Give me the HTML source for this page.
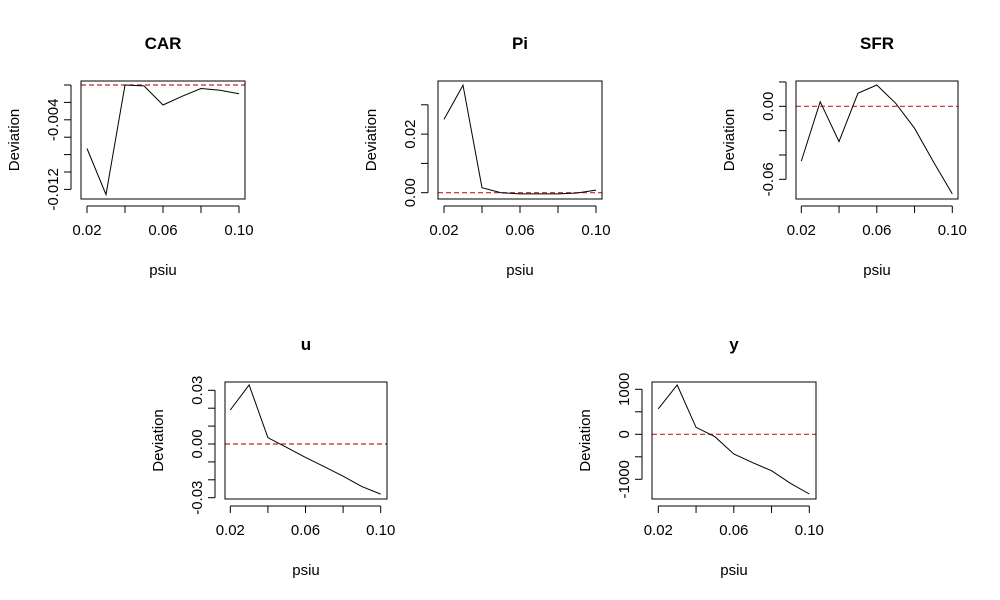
<!DOCTYPE html>
<html><head><meta charset="utf-8"><style>
body{margin:0;background:#fff}
svg{display:block;font-family:"Liberation Sans",Arial,sans-serif}
</style></head><body>
<svg id="chart" width="1000" height="600" viewBox="0 0 1000 600" xmlns="http://www.w3.org/2000/svg"></svg>
<script>
const psiu = [0.02,0.03,0.04,0.05,0.06,0.07,0.08,0.09,0.10];
const xTicks = [0.02,0.04,0.06,0.08,0.10];
const xTickLabels = ["0.02","","0.06","","0.10"];
const carValues = [-0.0073,-0.0126,0,-0.0001,-0.0023,-0.0013,-0.0004,-0.0006,-0.0010];
const carTicks = [0,-0.002,-0.004,-0.006,-0.008,-0.010,-0.012];
const carTickLabels = ["","","-0.004","","","","-0.012"];
const piValues = [0.0250,0.0367,0.0017,0,-0.0004,-0.0004,-0.0004,-0.0001,0.0009];
const piTicks = [0,0.01,0.02,0.03];
const piTickLabels = ["0.00","","0.02",""];
const sfrValues = [-0.045,0.0038,-0.029,0.0107,0.0175,0.0025,-0.018,-0.0455,-0.072];
const sfrTicks = [0.02,0,-0.02,-0.04,-0.06];
const sfrTickLabels = ["","0.00","","","-0.06"];
const uValues = [0.019,0.033,0.0035,-0.0019,-0.0075,-0.0127,-0.018,-0.0238,-0.028];
const uTicks = [0.03,0.02,0.01,0,-0.01,-0.02,-0.03];
const uTickLabels = ["0.03","","","0.00","","","-0.03"];
const yValues = [567,1096,155,-53,-437,-630,-808,-1089,-1326];
const yTicks = [1000,500,0,-500,-1000];
const yTickLabels = ["1000","","0","","-1000"];

const svg = document.getElementById('chart');
const NS = 'http://www.w3.org/2000/svg';
function mk(tag, attrs, parent){const e=document.createElementNS(NS,tag);for(const k in attrs)e.setAttribute(k,attrs[k]);parent.appendChild(e);return e;}

// geometry: box and calibration (xPix of 0.02 & 0.10, y pixel of two reference values)
function panel(key,title,vals,ticks,tlabels,box,xa,ya){
  const g=mk('g',{},svg);
  
  
  const X=v=>xa[0]+(v-0.02)/(0.08)*(xa[1]-xa[0]);
  const Y=v=>ya[1]+(v-ya[0])*ya[2];
  const [l,t,r,b]=box;
  const cx=(l+r)/2;
  const tt=mk('text',{x:cx,y:t-32,'text-anchor':'middle','font-size':'17','font-weight':'bold'},g);
  tt.textContent=title;
  
  
  // zero line
  const z=mk('line',{x1:l,x2:r,y1:Y(0),y2:Y(0),stroke:'#c0282d','stroke-width':1.2,'stroke-dasharray':'5,3'},g);
  
  
  // series
  const pts=vals.map((v,i)=>X(psiu[i]).toFixed(1)+','+Y(v).toFixed(1)).join(' ');
  const pl=mk('polyline',{points:pts,fill:'none',stroke:'#000','stroke-width':1},g);
  
  
  // box
  const bx=mk('rect',{x:l,y:t,width:r-l,height:b-t,fill:'none',stroke:'#000','stroke-width':1},g);
  
  
  // x axis
  const xg=mk('g',{},g);
  
  
  const ay=b+7;
  mk('line',{x1:X(xTicks[0]),x2:X(xTicks[xTicks.length-1]),y1:ay,y2:ay,stroke:'#000'},xg);
  xTicks.forEach((v,i)=>{
    mk('line',{x1:X(v),x2:X(v),y1:ay,y2:ay+7,stroke:'#000'},xg);
    if(xTickLabels[i]){const tx=mk('text',{x:X(v),y:ay+29,'text-anchor':'middle','font-size':'15'},xg);tx.textContent=xTickLabels[i];}
  });
  const xl=mk('text',{x:cx,y:b+76,'text-anchor':'middle','font-size':'15'},g);
  xl.textContent='psiu';
  
  
  // y axis
  const yg=mk('g',{},g);
  
  
  const ax=l-10;
  const ys=ticks.map(Y);
  mk('line',{x1:ax,x2:ax,y1:Math.min(...ys),y2:Math.max(...ys),stroke:'#000'},yg);
  ticks.forEach((v,i)=>{
    const yy=Y(v);
    mk('line',{x1:ax-7,x2:ax,y1:yy,y2:yy,stroke:'#000'},yg);
    if(tlabels[i]){const tx=mk('text',{x:0,y:0,'text-anchor':'middle','font-size':'15',transform:`translate(${ax-13},${yy}) rotate(-90)`},yg);tx.textContent=tlabels[i];}
  });
  const yl=mk('text',{x:0,y:0,'text-anchor':'middle','font-size':'15',transform:`translate(${l-62},${(t+b)/2}) rotate(-90)`},g);
  yl.textContent='Deviation';
  
  
}
// ya: [refValue, refPixel, pixelsPerUnit (negative = up)]
panel('car','CAR',carValues,carTicks,carTickLabels,[81,81,245,199],[87,239],[0,85,-8700]);
panel('pi','Pi',piValues,piTicks,piTickLabels,[438,81,602,199],[444,596],[0,192.7,-2930]);
panel('sfr','SFR',sfrValues,sfrTicks,sfrTickLabels,[796,81,958,199],[801.3,952.3],[0,106.3,-1217]);
panel('u','u',uValues,uTicks,uTickLabels,[225,382,387,499],[230.3,380.7],[0,444,-1790]);
panel('y','y',yValues,yTicks,yTickLabels,[652,382,816,499],[658.3,809.3],[0,434.3,-0.045]);
</script>
</body></html>
